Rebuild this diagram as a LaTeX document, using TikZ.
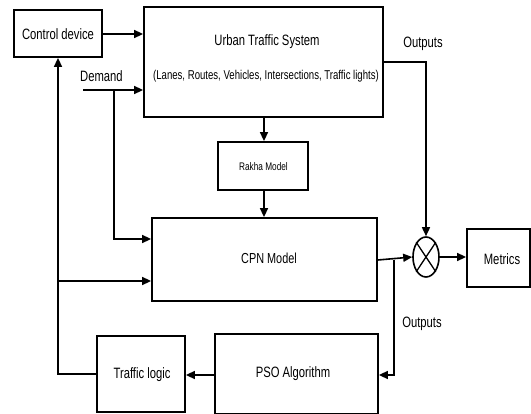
\documentclass[tikz,border=0pt]{standalone}
\usepackage{fontspec}
\setmainfont[FakeStretch=0.75]{Liberation Sans}
\usetikzlibrary{arrows.meta,shapes.geometric}
\begin{document}
\begin{tikzpicture}[x=1pt,y=-1pt,
  box/.style={draw,line width=1.8pt,rectangle,inner sep=0pt},
  conn/.style={line width=1.6pt,-{Triangle[length=9pt,width=8pt]}},
  txt/.style={inner sep=0pt,font=\fontsize{15}{17}\selectfont}]
\useasboundingbox (0,0) rectangle (531,414);
% boxes
\node[box,minimum width=88pt,minimum height=47pt] (ctrl) at (58,33.5) {};
\node[txt] (ctrlT) at (58,34) {Control device};
\node[box,minimum width=239pt,minimum height=110pt] (uts) at (263.5,62) {};
\node[txt] (utsT1) at (267,42) {Urban Traffic System};
\node[txt,font=\fontsize{12.8}{14}\selectfont] (utsT2) at (266,76) {(Lanes, Routes, Vehicles, Intersections, Traffic lights)};
\node[box,minimum width=90pt,minimum height=48pt] (rakha) at (263,166) {};
\node[txt,font=\fontsize{11}{13}\selectfont] (rakhaT) at (263.5,167) {Rakha Model};
\node[box,minimum width=225pt,minimum height=83pt] (cpn) at (264.5,259.5) {};
\node[txt,font=\fontsize{14.5}{16}\selectfont] (cpnT) at (269,258) {CPN Model};
\node[draw,line width=1.6pt,ellipse,minimum width=26pt,minimum height=40pt,inner sep=0pt] (sum) at (426,257) {};
\draw[line width=1.3pt] (sum.north east) -- (sum.south west) (sum.north west) -- (sum.south east);
\node[box,minimum width=63pt,minimum height=58pt] (metrics) at (498.5,258) {};
\node[txt] (metricsT) at (502,259) {Metrics};
\node[box,minimum width=88pt,minimum height=76pt] (tl) at (141,374) {};
\node[txt] (tlT) at (142,375) {Traffic logic};
\node[box,minimum width=163pt,minimum height=80pt] (pso) at (296.5,374) {};
\node[txt] (psoT) at (293,374) {PSO Algorithm};
% labels
\node[txt] (demand) at (101.5,76) {Demand};
\node[txt] (out1) at (423,44) {Outputs};
\node[txt] (out2) at (422,324) {Outputs};
% coordinates
\coordinate (dstart) at (83,90);
\coordinate (dsplit) at (114,90);
\coordinate (fb) at (58,374);
\coordinate (fbsplit) at (58,281);
\coordinate (osplit) at (394,260);
% connectors
\draw[conn] (ctrl.east |- 0,34) -- (uts.west |- 0,34);
\draw[conn] (dstart) -- (uts.west |- dstart);
\draw[conn] (dsplit) -- (114,239) -- (cpn.west |- 0,239);
\draw[conn] (uts.south -| 264,0) -- (rakha.north -| 264,0);
\draw[conn] (rakha.south -| 264,0) -- (cpn.north -| 264,0);
\draw[conn] (uts.east |- 0,62) -- (426,62) -- (sum.north);
\draw[conn] (cpn.east |- osplit) -- (sum.west);
\draw[conn] (osplit) -- (394,375) -- (pso.east |- 0,375);
\draw[conn] (sum.east) -- (metrics.west |- sum.east);
\draw[conn] (pso.west |- 0,375) -- (tl.east |- 0,375);
\draw[conn] (tl.west |- fb) -- (fb) -- (ctrl.south -| fb);
\draw[conn] (fbsplit) -- (cpn.west |- fbsplit);
\end{tikzpicture}
\end{document}
